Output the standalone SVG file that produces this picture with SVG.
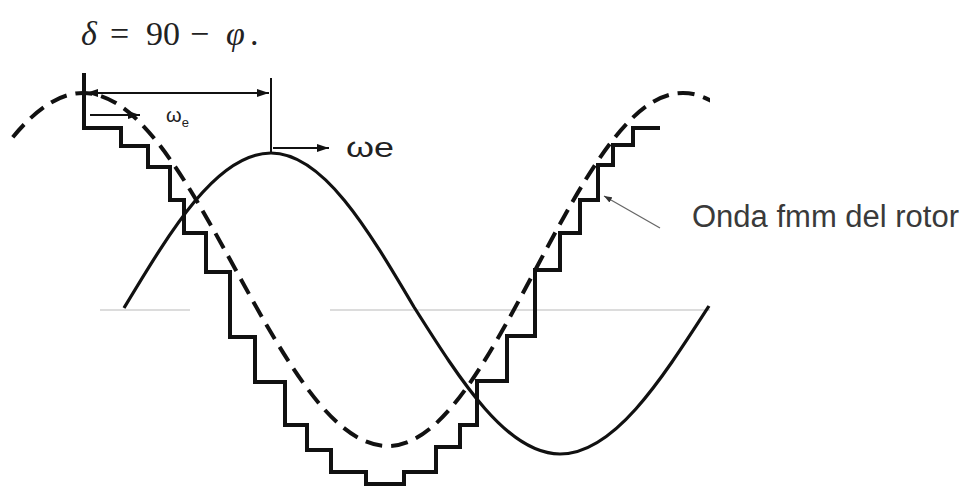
<svg xmlns="http://www.w3.org/2000/svg" width="966" height="488" viewBox="0 0 966 488">
  <style>
    .wave { fill: none; stroke: #111; stroke-linejoin: round; stroke-linecap: butt; }
    .solid { stroke-width: 3.2; }
    .dash { stroke-width: 4; stroke-dasharray: 17 9; }
    .stair { fill: none; stroke: #111; stroke-width: 4; stroke-linejoin: miter; }
    .axis { stroke: #dcdcdc; stroke-width: 2; fill: none; }
    .conn { stroke: #111; stroke-width: 2; fill: none; }
    .leader { stroke: #666; stroke-width: 1.2; fill: none; }
    .serif { font-family: "Liberation Serif", "DejaVu Serif", serif; fill: #222; }
    .sans { font-family: "Liberation Sans", Arial, sans-serif; fill: #222; }
  </style>
  <defs>
    <marker id="ah" viewBox="0 0 12 8" refX="12" refY="4" markerWidth="12" markerHeight="8" markerUnits="userSpaceOnUse" orient="auto-start-reverse">
      <path d="M0,0 L12,4 L0,8 Z" fill="#111"/>
    </marker>
    <marker id="ahs" viewBox="0 0 8 6" refX="8" refY="3" markerWidth="8" markerHeight="6" markerUnits="userSpaceOnUse" orient="auto">
      <path d="M0,0 L8,3 L0,6 Z" fill="#333"/>
    </marker>
    <clipPath id="clipDash">
      <rect x="10" y="0" width="700" height="488"/>
    </clipPath>
  </defs>

  <rect width="966" height="488" fill="#fff"/>

  <g id="axis">
    <line class="axis" x1="100" y1="310" x2="190" y2="310"/>
    <line class="axis" x1="330" y1="310" x2="710" y2="310"/>
  </g>

  <g id="dashed-wave" clip-path="url(#clipDash)">
    <path class="wave dash" d="M-69.5,269.5 C-19.8,179.1 27.8,93 83,93 C138.2,93 185.8,179.1 235.5,269.5 C285.2,359.9 332.8,446 388,446 C441.4,446 487.4,359.9 535.5,269.5 C583.6,179.1 629.6,93 683,93 C736.4,93 782.4,179.1 830.5,269.5"/>
  </g>

  <g id="solid-wave">
    <path class="wave solid" d="M124,308 C171.6,229 217.2,153 271,153 C322.8,153 367.4,228.1 414,307 C461.6,382.3 507.2,454 560,454 C613.6,454 659.7,382.3 709,306"/>
  </g>

  <g id="staircase">
    <path class="stair" d="M84,73 V128 H121 V146 H148 V167 H170 V200 H184 V233 H206 V272 H230 V337 H255 V382 H285 V425 H307 V450 H331 V472 H366 V484 H404 V472 H436 V447 H460 V425 H477 V381 H507 V336 H535 V270 H560 V233 H580 V200 H598 V165 H613 V145 H633 V128 H660"/>
  </g>

  <g id="connectors">
    <line class="conn" x1="271" y1="78" x2="271" y2="152"/>
    <line class="conn" x1="86" y1="93" x2="269" y2="93" marker-start="url(#ah)" marker-end="url(#ah)"/>
    <line class="conn" x1="90" y1="115" x2="140" y2="115" marker-end="url(#ah)"/>
    <line class="conn" x1="273" y1="148" x2="329" y2="148" marker-end="url(#ah)"/>
    <line class="leader" x1="660" y1="228" x2="604" y2="196" marker-end="url(#ahs)"/>
  </g>

  <g id="formula">
    <text class="serif" y="45" font-size="34"><tspan x="81" font-style="italic">δ</tspan><tspan x="110">=</tspan><tspan x="146">90</tspan><tspan x="190">−</tspan><tspan x="226" font-style="italic">φ</tspan><tspan x="250">.</tspan></text>
  </g>

  <g id="label-we-small">
    <text class="sans" x="166" y="122" font-size="20">ω<tspan font-size="13" dy="5">e</tspan></text>
  </g>

  <g id="label-we">
    <text class="sans" x="346" y="157" font-size="27" textLength="48" lengthAdjust="spacingAndGlyphs">ωe</text>
  </g>

  <g id="label-rotor">
    <text class="sans" x="692" y="227" font-size="31" style="fill:#3a3a3a">Onda fmm del rotor</text>
  </g>
</svg>
